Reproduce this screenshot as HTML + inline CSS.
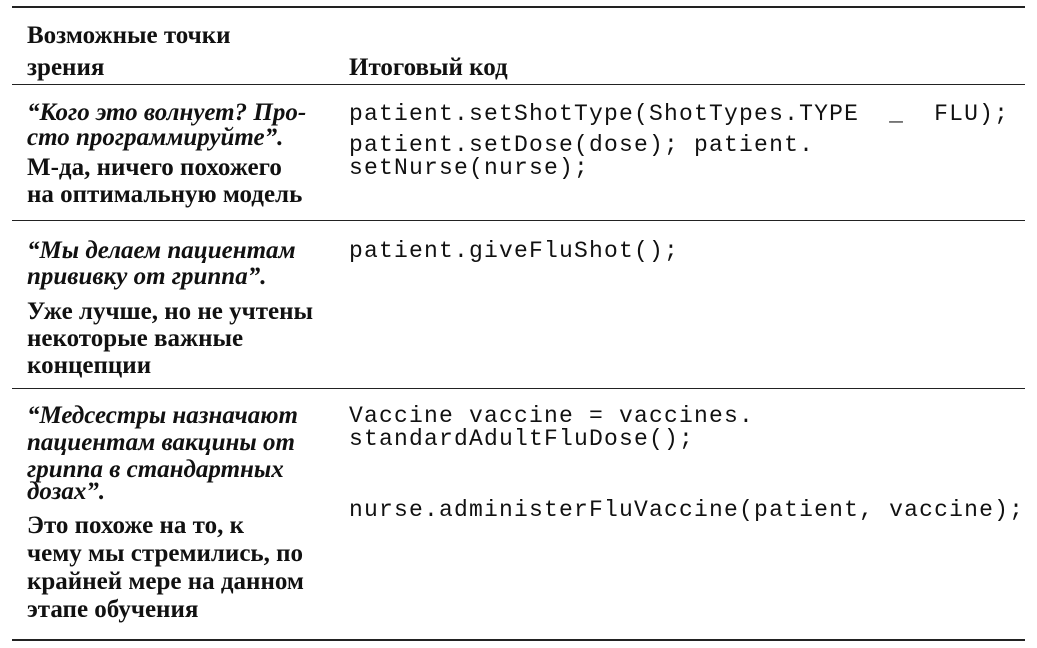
<!DOCTYPE html>
<html><head><meta charset="utf-8"><style>
html,body{margin:0;padding:0;background:#fff;}
body{width:1037px;height:648px;position:relative;overflow:hidden;color:#111;}
.l{position:absolute;left:12px;width:1013px;background:#222;}
.t{position:absolute;white-space:nowrap;font-family:"Liberation Serif","DejaVu Serif",serif;font-size:25px;line-height:28px;font-weight:bold;}
.i{font-style:italic;font-weight:bold;}
.c{position:absolute;white-space:pre;font-family:"Liberation Mono",monospace;font-size:23px;letter-spacing:1.2px;line-height:28px;}
</style></head><body>
<div class="l" style="top:6px;height:2px"></div>
<div class="l" style="top:84px;height:1px"></div>
<div class="l" style="top:220px;height:1px"></div>
<div class="l" style="top:388px;height:1px"></div>
<div class="l" style="top:639px;height:2px"></div>

<div class="t" style="left:27px;top:22px">Возможные точки</div>
<div class="t" style="left:27px;top:54px">зрения</div>
<div class="t" style="left:349px;top:54px">Итоговый код</div>

<div class="t i" style="left:27px;top:99px">“Кого это волнует? Про-</div>
<div class="t i" style="left:27px;top:124px">сто программируйте”.</div>
<div class="t" style="left:27px;top:154px">М-да, ничего похожего</div>
<div class="t" style="left:27px;top:181px">на оптимальную модель</div>
<div class="c" style="left:349px;top:100px">patient.setShotType(ShotTypes.TYPE  _  FLU);</div>
<div class="c" style="left:349px;top:131px">patient.setDose(dose); patient.</div>
<div class="c" style="left:349px;top:154px">setNurse(nurse);</div>

<div class="t i" style="left:27px;top:237px">“Мы делаем пациентам</div>
<div class="t i" style="left:27px;top:263px">прививку от гриппа”.</div>
<div class="t" style="left:27px;top:298px">Уже лучше, но не учтены</div>
<div class="t" style="left:27px;top:325px">некоторые важные</div>
<div class="t" style="left:27px;top:352px">концепции</div>
<div class="c" style="left:349px;top:237px">patient.giveFluShot();</div>

<div class="t i" style="left:27px;top:402px">“Медсестры назначают</div>
<div class="t i" style="left:27px;top:429px">пациентам вакцины от</div>
<div class="t i" style="left:27px;top:456px">гриппа в стандартных</div>
<div class="t i" style="left:27px;top:478px">дозах”.</div>
<div class="t" style="left:27px;top:512px">Это похоже на то, к</div>
<div class="t" style="left:27px;top:540px">чему мы стремились, по</div>
<div class="t" style="left:27px;top:568px">крайней мере на данном</div>
<div class="t" style="left:27px;top:596px">этапе обучения</div>
<div class="c" style="left:349px;top:402px">Vaccine vaccine = vaccines.</div>
<div class="c" style="left:349px;top:425px">standardAdultFluDose();</div>
<div class="c" style="left:349px;top:496px">nurse.administerFluVaccine(patient, vaccine);</div>
</body></html>
